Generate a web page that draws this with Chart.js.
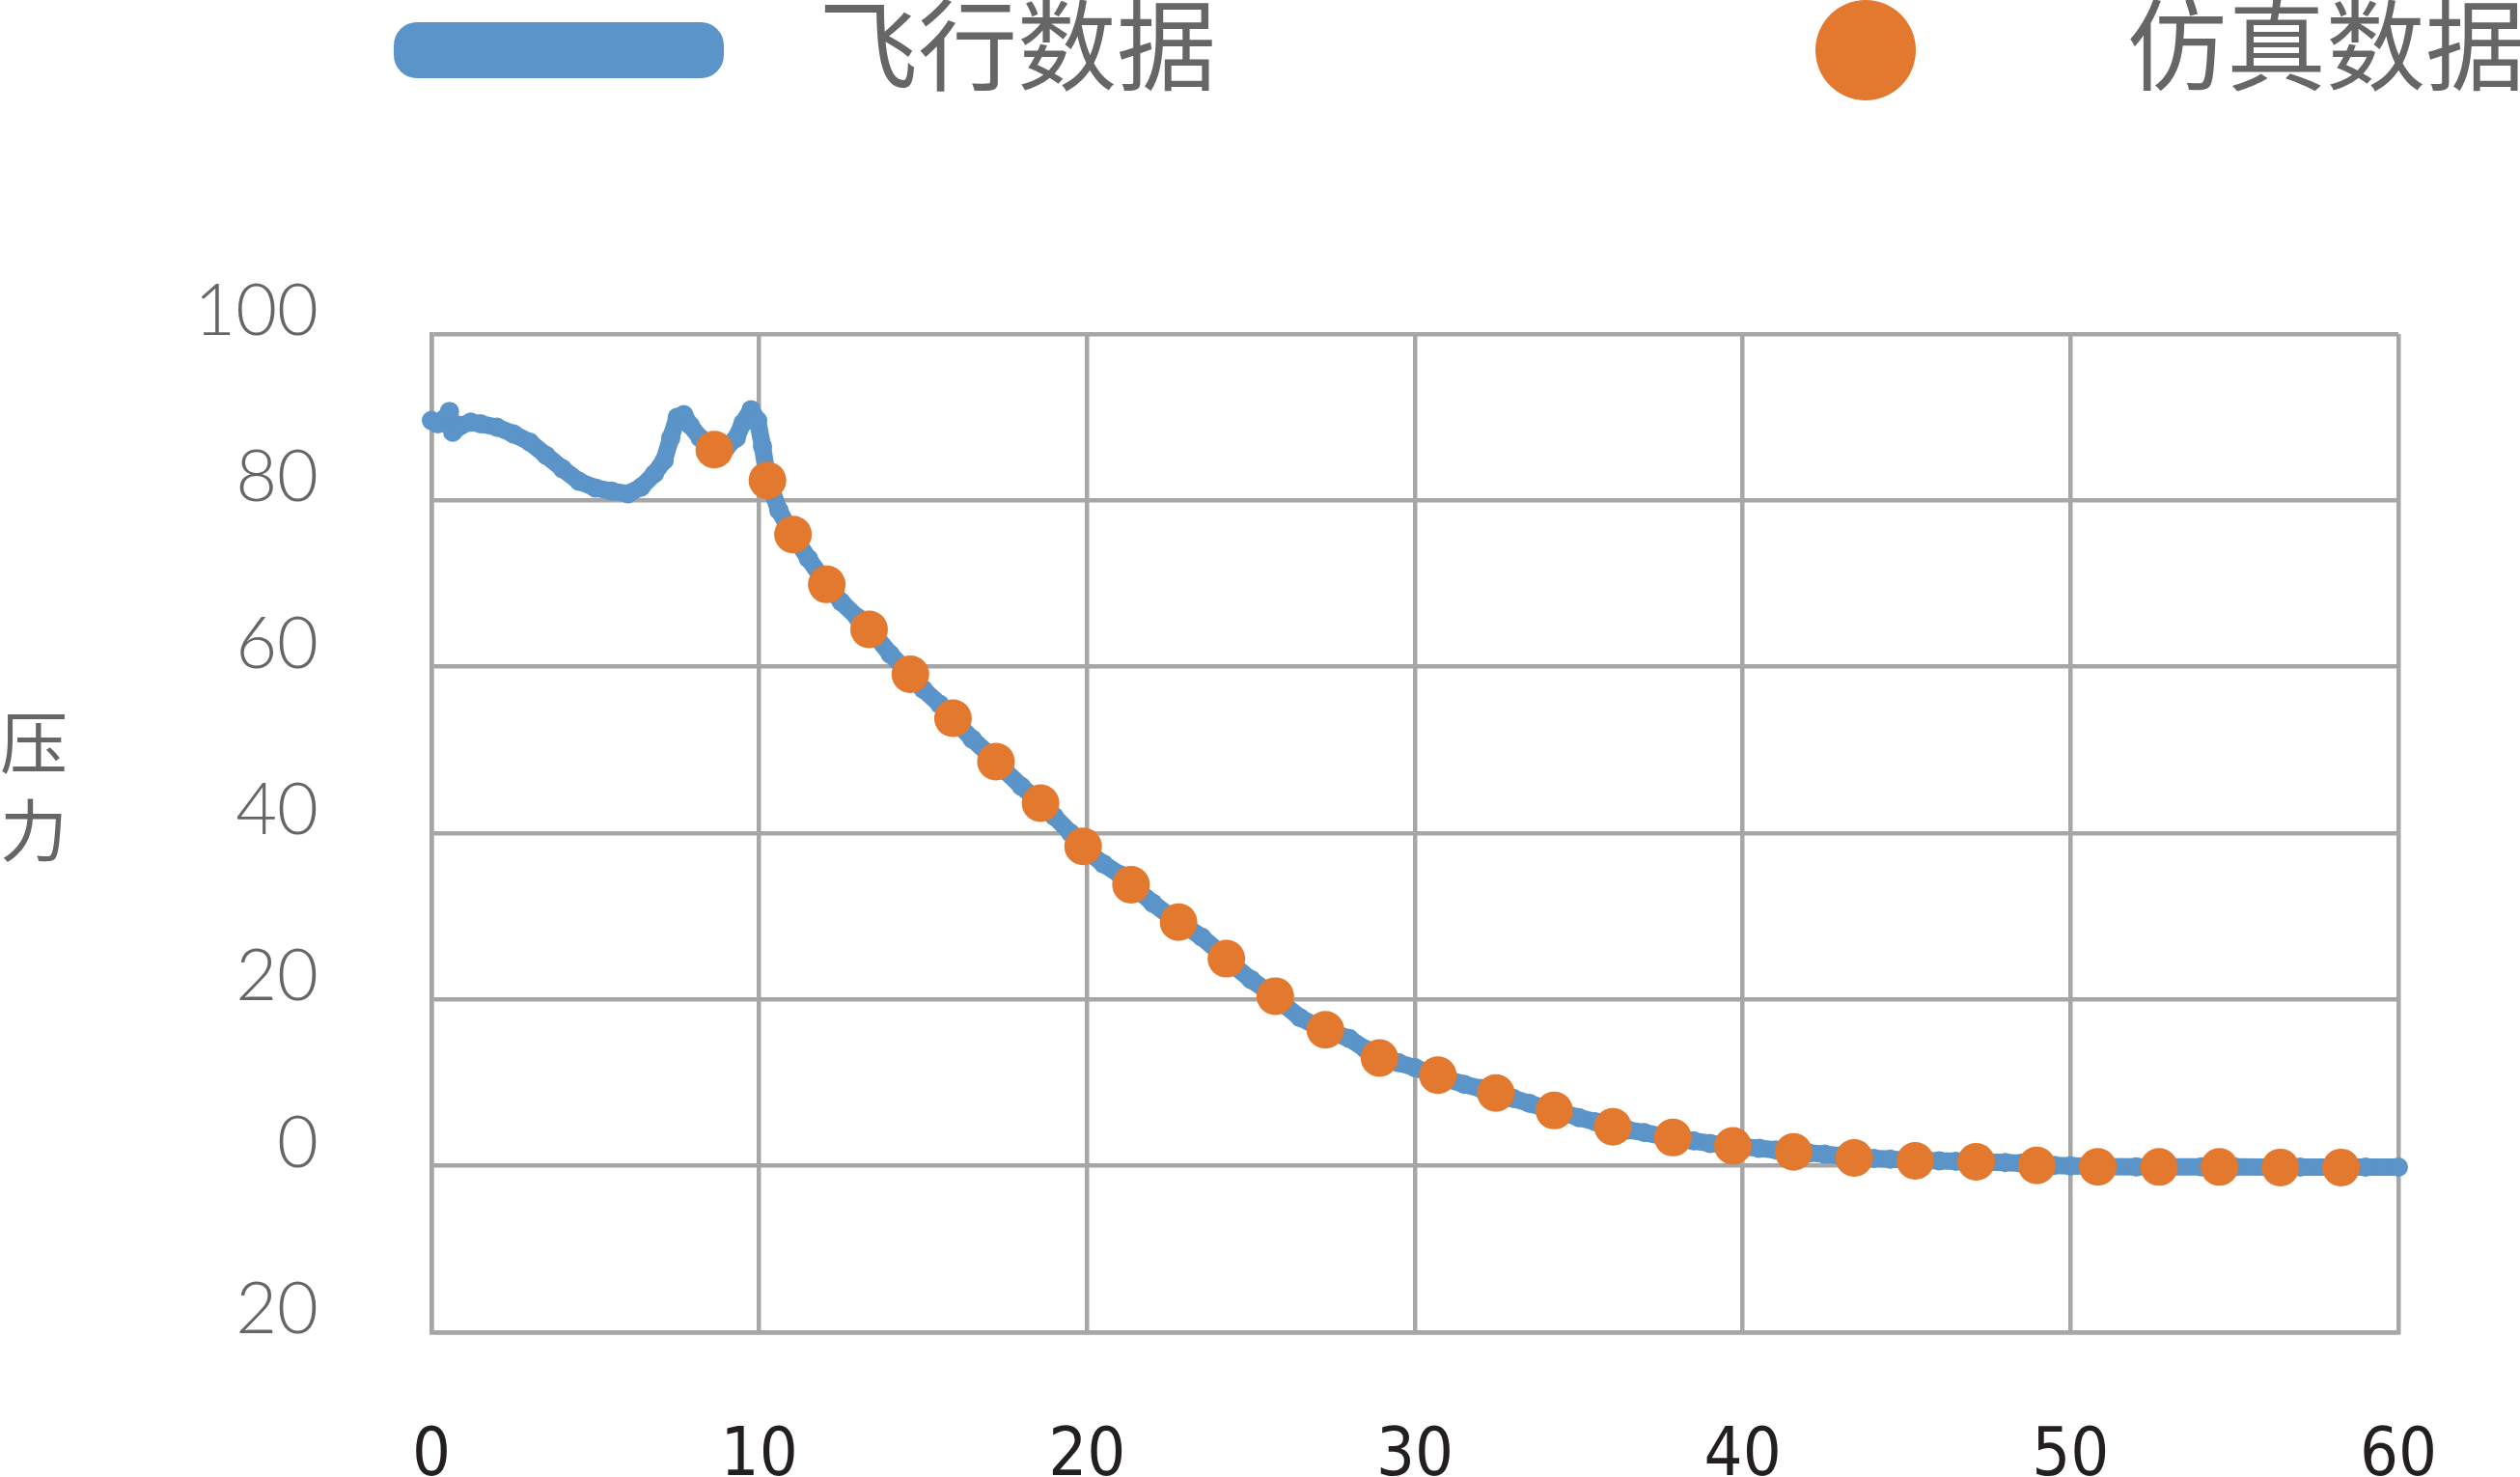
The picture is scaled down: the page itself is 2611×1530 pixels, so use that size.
<!DOCTYPE html>
<html>
<head>
<meta charset="utf-8">
<script src="https://cdn.jsdelivr.net/npm/chart.js@4.4.1/dist/chart.umd.min.js"></script>
<style>
  html, body { margin: 0; padding: 0; background: #fff; }
  #wrap { position: relative; width: 2611px; height: 1530px; overflow: hidden; }
  .legend-line { position: absolute; left: 408px; top: 23px; width: 342px; height: 58px; background: #5b94c8; border-radius: 24px; }
  .legend-dot { position: absolute; left: 1881px; top: 0px; width: 104px; height: 104px; background: #e2792f; border-radius: 50%; }
  .legend-text { position: absolute; top: -10px; font: 103px/103px 'Noto Sans CJK SC', sans-serif; color: #666; white-space: nowrap; }
  .y-title { position: absolute; left: 0px; top: 720px; font: 70px/91px 'Noto Sans CJK SC', sans-serif; color: #666; }
</style>
</head>
<body>
<div id="wrap">
  <canvas id="chart"></canvas>
  <div class="legend-line"></div>
  <div class="legend-text" style="left:848px">飞行数据</div>
  <div class="legend-dot"></div>
  <div class="legend-text" style="left:2204px">仿真数据</div>
  <div class="y-title">压<br>力</div>
</div>
<script>
// 飞行数据 (flight data)
const flightX = [0, 0.2, 0.4, 0.55, 0.65, 0.9, 1.2, 1.5, 2.0, 2.5, 3.0, 3.5, 4.0, 4.5, 5.0, 5.5, 6.0, 6.4, 6.8, 7.1,
  7.3, 7.5, 7.7, 7.9, 8.2, 8.6, 9.0, 9.3, 9.5, 9.75, 9.95, 10.1, 10.25, 10.6, 11.0, 11.5, 12.0, 12.5, 13.0, 13.5,
  14.0, 14.5, 15.0, 15.5, 16.0, 16.5, 17.0, 17.5, 18.0, 18.5, 19.0, 19.5, 20.0, 20.5, 21.0, 21.5, 22.0, 22.5, 23.0, 23.5,
  24.0, 24.5, 25.0, 25.5, 26.0, 26.5, 27.0, 27.5, 28.0, 28.5, 29.0, 29.5, 30.0, 30.5, 31.0, 31.5, 32.0, 32.5, 33.0, 33.5,
  34.0, 34.5, 35.0, 35.5, 36.0, 36.5, 37.0, 37.5, 38.0, 38.5, 39.0, 39.5, 40.0, 40.5, 41.0, 41.5, 42.0, 42.5, 43.0, 43.5,
  44.0, 44.5, 45.0, 45.5, 46.0, 46.5, 47.0, 47.5, 48.0, 48.5, 49.0, 49.5, 50.0, 50.5, 51.0, 52.0, 53.0, 54.0, 55.0, 56.0,
  57.0, 58.0, 59.0, 60.0];
const flightY = [89.6, 89.2, 89.8, 90.7, 88.2, 89.0, 89.4, 89.2, 88.8, 88.0, 87.0, 85.4, 83.8, 82.3, 81.5, 81.1, 80.8, 81.6, 83.2, 84.8,
  87.5, 90.0, 90.3, 89.0, 87.5, 86.2, 86.4, 87.5, 89.3, 90.9, 89.6, 86.5, 82.6, 78.8, 76.0, 73.0, 70.2, 67.8, 65.9, 63.9,
  61.5, 59.5, 57.3, 55.5, 53.4, 51.3, 49.5, 47.5, 45.6, 43.9, 42.0, 40.0, 37.8, 36.3, 35.0, 33.3, 31.6, 30.1, 28.8, 27.5,
  25.8, 24.0, 22.4, 21.0, 19.4, 17.8, 16.8, 16.0, 15.3, 14.0, 12.9, 12.4, 11.8, 11.1, 10.4, 9.8, 9.3, 8.7, 8.1, 7.5,
  6.9, 6.4, 5.8, 5.3, 4.75, 4.3, 4.0, 3.6, 3.3, 3.0, 2.7, 2.5, 2.3, 2.1, 1.9, 1.7, 1.55, 1.4, 1.2, 1.0,
  0.9, 0.8, 0.7, 0.65, 0.6, 0.55, 0.5, 0.45, 0.4, 0.3, 0.1, 0.05, 0, -0.05, -0.1, -0.12, -0.13, -0.14, -0.14, -0.15,
  -0.15, -0.15, -0.15, -0.15];

// 仿真数据 (simulation data)
const simX = [8.63, 10.25, 11.03, 12.06, 13.35, 14.61, 15.91, 17.22, 18.58, 19.88, 21.34, 22.79, 24.25, 25.74, 27.27, 28.92,
  30.70, 32.47, 34.25, 36.04, 37.87, 39.70, 41.55, 43.40, 45.26, 47.12, 48.97, 50.83, 52.70, 54.54, 56.40, 58.25];
const simY = [86.1, 82.4, 75.9, 69.9, 64.5, 59.1, 53.8, 48.6, 43.6, 38.4, 33.8, 29.3, 24.9, 20.4, 16.35, 12.95,
  10.9, 8.75, 6.65, 4.7, 3.4, 2.4, 1.67, 0.94, 0.6, 0.48, 0.05, -0.13, -0.14, -0.14, -0.2, -0.2];

const xTicks = [0, 10, 20, 30, 40, 50, 60];
const yTicks = [-20, 0, 20, 40, 60, 80, 100];
const yTickLabels = ['20', '0', '20', '40', '60', '80', '100'];

const gridColor = '#a6a6a6';
const narrowFont = "'DejaVu Sans Condensed', 'DejaVu Sans', sans-serif";

const flightPoints = flightX.map((x, i) => ({ x, y: flightY[i] }));
const simPoints = simX.map((x, i) => ({ x, y: simY[i] }));

new Chart(document.getElementById('chart'), {
  type: 'scatter',
  data: {
    datasets: [
      {
        label: '仿真数据',
        data: simPoints,
        order: 0,
        showLine: false,
        pointRadius: 19.5,
        pointBackgroundColor: '#e2792f',
        pointBorderWidth: 0,
        clip: false
      },
      {
        label: '飞行数据',
        data: flightPoints,
        order: 1,
        showLine: true,
        borderColor: '#5b94c8',
        borderWidth: 18,
        borderCapStyle: 'round',
        borderJoinStyle: 'round',
        pointRadius: 10,
        pointBackgroundColor: '#5b94c8',
        pointBorderWidth: 0,
        tension: 0,
        clip: false
      }
    ]
  },
  options: {
    responsive: true,
    maintainAspectRatio: false,
    animation: false,
    devicePixelRatio: 1,
    layout: { padding: { top: 346, right: 126, bottom: 0, left: 0 } },
    plugins: { legend: { display: false }, tooltip: { enabled: false } },
    scales: {
      x: {
        type: 'linear',
        min: 0,
        max: 60,
        afterFit: s => { s.height = 150; s.paddingLeft = 0; s.paddingRight = 0; },
        afterBuildTicks: s => { s.ticks = xTicks.map(v => ({ value: v })); },
        grid: { color: gridColor, lineWidth: 4.5, drawTicks: false },
        border: { color: gridColor, width: 4.5 },
        ticks: {
          padding: 88,
          color: '#231f20',
          font: { family: narrowFont, weight: 'condensed', size: 70, lineHeight: 1.2 }
        }
      },
      y: {
        type: 'linear',
        min: -20,
        max: 100,
        afterFit: s => { s.width = 447; s.paddingTop = 0; s.paddingBottom = 0; },
        afterBuildTicks: s => { s.ticks = yTicks.map(v => ({ value: v })); },
        grid: { color: gridColor, lineWidth: 4.5, drawTicks: false },
        border: { color: gridColor, width: 4.5 },
        ticks: {
          padding: 117,
          labelOffset: -23,
          color: '#666666',
          font: { family: "Lato, 'DejaVu Sans', sans-serif", weight: 300, size: 74, lineHeight: 1.2 },
          callback: (v) => yTickLabels[yTicks.indexOf(v)]
        }
      }
    }
  }
});
</script>
</body>
</html>
